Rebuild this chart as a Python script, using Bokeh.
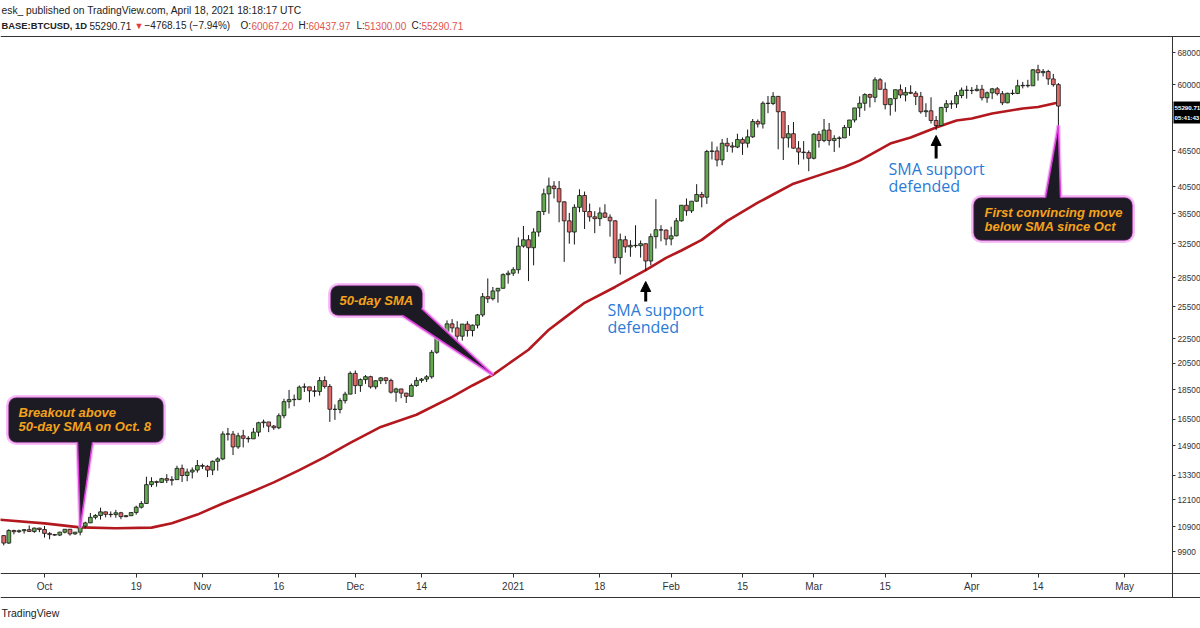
import math
import pandas as pd
from bokeh.plotting import figure
from bokeh.models import (Range1d, FixedTicker, Label, ColumnDataSource, BoxAnnotation, Arrow,
                          NormalHead, Span, NumeralTickFormatter)
from bokeh.embed import file_html
from bokeh.resources import INLINE

# ---------------- data (daily BTCUSD candles, 2020-09-23 .. 2021-04-18) ----------------
first_date = "2020-09-23"
opens = [10530, 10230, 10740, 10690, 10730, 10775, 10700, 10840,
         10780, 10620, 10570, 10550, 10670, 10790, 10600, 10670, 10920, 11060, 11300, 11380, 11540, 11430,
         11420, 11500, 11330, 11370, 11510, 11750, 11920, 12820, 12970, 12930, 13120, 13040, 13070, 13650,
         13280, 13460, 13560,
         13800, 13760, 13560, 14030, 14160, 15590, 15580, 14830, 15480, 15330, 15300, 15700, 16280, 16330,
         16070, 15970, 16730, 17660, 17800, 17820, 18680, 18700, 18420, 18370, 19160, 18730, 17150, 17140,
         17730, 18180,
         19700, 18790, 19230, 19450, 18700, 19150, 19360, 19170, 18320, 18550, 18250, 18030, 18800, 19170,
         19270, 19440, 21370, 22850, 23140, 23850, 23480, 22740, 23830, 23240, 23730, 24690, 26490, 26280,
         27080, 27360, 28840,
         29000, 29400, 32200, 33000, 32000, 34000, 36800, 39400, 40600, 40200, 38200, 35500, 34000, 37400,
         39150, 36800, 36050, 35800, 36600, 36000, 35500, 30800, 33000, 32100, 32300, 32250, 32500, 30400,
         33400, 34300, 34250,
         33100, 33500, 35500, 37700, 36900, 38300, 39300, 38900, 46400, 46500, 44900, 47900, 47400, 47200,
         48600, 47900, 49100, 52100, 51600, 55900, 55850, 57400, 54100, 48900, 49700, 47000, 46300, 46200,
         45200, 49600, 48400, 50400, 48400, 48800, 48900, 50900, 52400, 54900, 55900, 57800, 57200, 61200,
         59000, 55600, 56900, 58900, 57700, 58300, 58100, 57400, 54100, 54300, 52300, 51300, 55000, 55800,
         55750, 57600, 58800,
         58750, 58700, 59000, 57100, 58200, 59100, 58000, 56000, 58100, 58050, 59800, 59900, 59800, 63600,
         62900, 63200, 61400, 60067.20]
highs = [10540, 10790, 10770, 10780, 10800, 10950, 10860, 10850,
         10930, 10670, 10600, 10690, 10800, 10800, 10680, 10960, 11110, 11490, 11440, 11730, 11550, 11560,
         11630, 11540, 11400, 11520, 11820, 12030, 13220, 13190, 13020, 13160, 13350, 13240, 13790, 13850,
         13640, 13700, 14100,
         13900, 13820, 14070, 14250, 15750, 15960, 15770, 15660, 15840, 15460, 15960, 16340, 16480, 16330,
         16140, 16880, 17860, 18480, 18150, 18800, 18950, 18700, 18770, 19420, 19480, 18900, 17470, 17900,
         18350, 19850,
         19920, 19320, 19570, 19520, 19180, 19420, 19410, 19300, 18640, 18560, 18280, 18940, 19410, 19350,
         19570, 21560, 23770, 23290, 24170, 24290, 24100, 23830, 24100, 23790, 24780, 26870, 28420, 27500,
         27370, 28990, 29300,
         29680, 33300, 34800, 33600, 34500, 36900, 40200, 41950, 41380, 41400, 38300, 36600, 37850, 40100,
         39750, 37950, 36850, 37400, 37850, 36400, 35600, 33800, 33500, 32950, 34900, 32900, 32550, 33800,
         38600, 34900, 34350,
         34700, 35900, 37700, 38700, 38300, 40900, 39700, 46700, 48200, 47300, 48700, 48900, 48100, 49700,
         49000, 50500, 52600, 52500, 56300, 57500, 58350, 57500, 54200, 51400, 52000, 48300, 48300, 46600,
         49800, 50200, 52600, 51800, 49400, 49200, 51400, 52400, 54900, 57400, 58100, 58000, 61800, 61600,
         60600, 56900, 58900, 60100, 59500, 59900, 58600, 58400, 55900, 57200, 53200, 55100, 56600, 56500,
         58400, 59400, 59800,
         59500, 60000, 60000, 58500, 59300, 59500, 58600, 58200, 58900, 61200, 60700, 61200, 63800, 64850,
         63800, 63600, 62600, 60437.97]
lows = [10140, 10200, 10580, 10640, 10610, 10680, 10640, 10670,
        10450, 10380, 10520, 10510, 10620, 10530, 10560, 10540, 10830, 11050, 11210, 11200, 11300, 11300,
        11280, 11220, 11300, 11360, 11420, 11690, 11900, 12700, 12720, 12900, 12900, 12780, 13060, 12950,
        12990, 13130, 13430,
        13620, 13200, 13300, 13530, 14090, 15200, 14370, 14720, 14800, 15080, 15290, 15440, 15970, 15700,
        15840, 15880, 16560, 17210, 17350, 17760, 18330, 17620, 18000, 18080, 18580, 16330, 16460, 16880,
        17540, 18180,
        18190, 18340, 18920, 18580, 18530, 18900, 18900, 18220, 17650, 17900, 17570, 18020, 18710, 19000,
        19050, 19300, 21240, 22360, 22810, 23070, 21900, 22350, 22700, 22720, 23440, 24500, 25860, 26100,
        25880, 27330, 27850,
        28700, 28950, 32000, 28130, 29900, 33400, 36300, 36500, 38700, 35300, 30300, 32500, 32400, 36700,
        34400, 35400, 33850, 34800, 35900, 33400, 30100, 28850, 31400, 30900, 32000, 30800, 29240, 29900,
        31900, 32800, 32300,
        32300, 33450, 35400, 36200, 36600, 38200, 37400, 37900, 45000, 43800, 44000, 46300, 46200, 47000,
        45800, 47100, 48900, 50900, 50700, 53800, 55500, 46800, 44900, 47100, 46900, 44100, 45000, 43000,
        45000, 47100, 48100, 47500, 46300, 47100, 48900, 49300, 51900, 53000, 54300, 55000, 56100, 58900,
        54600, 53300, 54100, 57000, 56300, 57900, 55500, 53700, 53000, 51700, 50400, 51300, 54000, 54700,
        54900, 57000, 56900,
        57900, 58500, 56500, 56000, 56800, 57600, 55500, 55900, 57700, 57900, 59200, 59400, 59800, 61000,
        62000, 60000, 59600, 51300.00]
closes = [10230, 10740, 10690, 10730, 10775, 10700, 10840, 10780,
          10620, 10570, 10550, 10670, 10790, 10600, 10670, 10920, 11060, 11300, 11380, 11540, 11430, 11420,
          11500, 11330, 11370, 11510, 11750, 11920, 12820, 12970, 12930, 13120, 13040, 13070, 13650, 13280,
          13460, 13560, 13800,
          13760, 13560, 14030, 14160, 15590, 15580, 14830, 15480, 15330, 15300, 15700, 16280, 16330, 16070,
          15970, 16730, 17660, 17800, 17820, 18680, 18700, 18420, 18370, 19160, 18730, 17150, 17140, 17730,
          18180, 19700,
          18790, 19230, 19450, 18700, 19150, 19360, 19170, 18320, 18550, 18250, 18030, 18800, 19170, 19270,
          19440, 21370, 22850, 23140, 23850, 23480, 22740, 23830, 23240, 23730, 24690, 26490, 26280, 27080,
          27360, 28840, 29000,
          29400, 32200, 33000, 32000, 34000, 36800, 39400, 40600, 40200, 38200, 35500, 34000, 37400, 39150,
          36800, 36050, 35800, 36600, 36000, 35500, 30800, 33000, 32100, 32300, 32250, 32500, 30400, 33400,
          34300, 34250, 33100,
          33500, 35500, 37700, 36900, 38300, 39300, 38900, 46400, 46500, 44900, 47900, 47400, 47200, 48600,
          47900, 49100, 52100, 51600, 55900, 55850, 57400, 54100, 48900, 49700, 47000, 46300, 46200, 45200,
          49600, 48400, 50400, 48400, 48800, 48900, 50900, 52400, 54900, 55900, 57800, 57200, 61200, 59000,
          55600, 56900, 58900, 57700, 58300, 58100, 57400, 54100, 54300, 52300, 51300, 55000, 55800, 55750,
          57600, 58800, 58750,
          58700, 59000, 57100, 58200, 59100, 58000, 56000, 58100, 58050, 59800, 59900, 59800, 63600, 62900,
          63200, 61400, 60067.20, 55290.71]

# 50-day simple moving average
sma_dates = ["2020-09-22", "2020-10-01", "2020-10-08", "2020-10-15", "2020-10-22", "2020-10-26",
             "2020-10-31", "2020-11-05", "2020-11-10", "2020-11-15", "2020-11-20", "2020-11-25",
             "2020-11-30", "2020-12-06", "2020-12-13", "2020-12-20", "2020-12-24", "2020-12-28",
             "2021-01-04", "2021-01-08", "2021-01-11", "2021-01-15", "2021-01-21", "2021-01-27",
             "2021-01-31", "2021-02-03", "2021-02-07", "2021-02-12", "2021-02-18", "2021-02-21",
             "2021-02-25", "2021-03-03", "2021-03-07", "2021-03-10", "2021-03-16", "2021-03-20",
             "2021-03-25", "2021-03-29", "2021-04-01", "2021-04-05", "2021-04-11", "2021-04-14",
             "2021-04-18"]
sma_values = [11200, 11040, 10870, 10830, 10860, 11040, 11420, 11920, 12400, 12930, 13560, 14260,
              15060, 16020, 16790, 17990, 18800, 19590, 21580, 23320, 24380, 25870, 27500, 29360,
              30770, 31660, 32980, 35500, 38080, 39300, 40970, 42600, 43700, 44800, 47850, 48970,
              50900, 52310, 52700, 53740, 54770, 55080, 56080]

x_tick_dates = ["2020-10-01", "2020-10-19", "2020-11-01", "2020-11-16", "2020-12-01", "2020-12-14",
                "2021-01-01", "2021-01-18", "2021-02-01", "2021-02-15", "2021-03-01", "2021-03-15",
                "2021-04-01", "2021-04-14", "2021-05-01"]
x_tick_labels = ["Oct", "19", "Nov", "16", "Dec", "14", "2021", "18", "Feb", "15", "Mar", "15",
                 "Apr", "14", "May"]
y_ticks = [9900, 10900, 12100, 13300, 14900, 16500, 18500, 20500, 22500, 25500, 28500, 32500,
           36500, 40500, 46500, 60000, 68000]

# ---------------- view / layout (page pixels) ----------------
W, H = 1200, 628
X_START = pd.Timestamp("2020-09-22 08:44")   # date at the left edge
X_END = pd.Timestamp("2021-05-15 21:20")     # date at the right edge
Y_MIN, Y_MAX = 7356, 83120                   # prices at bottom / top edge
TOP_LINE, AXIS_Y, BOTTOM_LINE, SCALE_X = 36, 573, 597, 1172

GREEN, RED, EDGE = "#63a94f", "#e06b6b", "#151515"
SMA_COLOR = "#b3181e"
BOX_FILL, GLOW, RIM = "#1c1b24", "#f3a2f3", "#dc3fdc"
ORANGE, BLUE = "#f5a21b", "#2b7bd6"
TXT = "#222222"
AX = "#333333"


def ms(d):
    return pd.Timestamp(d).value / 1e6


def to_data(xp, yp):
    t = X_START + (X_END - X_START) * (xp / W)
    ly = math.log(Y_MAX) - (yp / H) * (math.log(Y_MAX) - math.log(Y_MIN))
    return t.value / 1e6, math.exp(ly)


def sy(yp):
    return H - yp


dates = pd.date_range(first_date, periods=len(closes), freq="D")
src = ColumnDataSource(dict(
    date=dates, open=opens, high=highs, low=lows, close=closes,
    top=[max(o, c) for o, c in zip(opens, closes)],
    bottom=[min(o, c) for o, c in zip(opens, closes)],
    color=[GREEN if c >= o else RED for o, c in zip(opens, closes)],
))

p = figure(width=W, height=H, x_axis_type="datetime", y_axis_type="log",
           x_range=Range1d(X_START, X_END), y_range=Range1d(Y_MIN, Y_MAX),
           y_axis_location="right", output_backend="svg", toolbar_location=None,
           min_border=0, min_border_left=0, min_border_right=0, min_border_top=0,
           min_border_bottom=0)
p.outline_line_color = None
p.grid.visible = False
p.background_fill_color = "white"
p.border_fill_color = "white"

# time axis
xaxis = p.xaxis[0]
xaxis.fixed_location = to_data(0, AXIS_Y)[1]
xaxis.ticker = FixedTicker(ticks=[int(ms(d)) for d in x_tick_dates])
xaxis.major_label_overrides = {int(ms(d)): lab for d, lab in zip(x_tick_dates, x_tick_labels)}
xaxis.major_tick_in = 0
xaxis.major_tick_out = 4
xaxis.minor_tick_line_color = None
xaxis.axis_line_color = AX
xaxis.major_tick_line_color = AX
xaxis.major_label_text_font = "Liberation Sans"
xaxis.major_label_text_font_size = "10px"
xaxis.major_label_text_color = AX
xaxis.major_label_standoff = 3

# price scale
yaxis = p.yaxis[0]
yaxis.fixed_location = to_data(SCALE_X, 0)[0]
yaxis.bounds = (to_data(0, BOTTOM_LINE)[1], to_data(0, TOP_LINE)[1])
yaxis.ticker = FixedTicker(ticks=y_ticks)
yaxis.formatter = NumeralTickFormatter(format="0")
yaxis.major_tick_in = 0
yaxis.major_tick_out = 3
yaxis.minor_tick_line_color = None
yaxis.axis_line_color = AX
yaxis.major_tick_line_color = AX
yaxis.major_label_text_font = "Liberation Sans"
yaxis.major_label_text_font_size = "8.3px"
yaxis.major_label_text_color = AX
yaxis.major_label_standoff = 2

for yp in (TOP_LINE, BOTTOM_LINE):
    p.add_layout(Span(location=to_data(0, yp)[1], dimension="width", line_color=AX,
                      line_width=1))

# SMA then candles
p.line(x=[ms(d) for d in sma_dates], y=sma_values, line_color=SMA_COLOR, line_width=2.6)
p.segment(x0="date", y0="low", x1="date", y1="high", line_color=EDGE, line_width=1, source=src)
p.vbar(x="date", width=0.74 * 86400000, top="top", bottom="bottom", fill_color="color",
       line_color=EDGE, line_width=0.8, source=src)

# last price box on the price scale
p.add_layout(BoxAnnotation(left=1173, right=1200, top=sy(101), bottom=sy(123),
                           left_units="screen", right_units="screen", top_units="screen",
                           bottom_units="screen", fill_color="black", fill_alpha=1,
                           line_color=None, level="overlay"))
for txt, yp in [(f"{closes[-1]:.2f}", 107), ("05:41:43", 117)]:
    p.add_layout(Label(x=1174, y=sy(yp), x_units="screen", y_units="screen", text=txt,
                       text_font="Liberation Sans", text_font_size="6.2px", text_color="white",
                       text_font_style="bold", text_baseline="middle", level="overlay"))

# header
p.add_layout(Label(x=1, y=sy(10), x_units="screen", y_units="screen",
                   text="esk_ published on TradingView.com, April 18, 2021 18:18:17 UTC",
                   text_font="Liberation Sans", text_font_size="10.3px", text_color=TXT,
                   text_baseline="middle"))
header2 = [(1, "BASE:BTCUSD, 1D", TXT, "bold", "9.4px"),
           (89, f"{closes[-1]:.2f}", TXT, "normal", "10px"),
           (134, "\u25bc", "#e23b3b", "normal", "9px"),
           (144, "\u22124768.15 (\u22127.94%)", TXT, "normal", "10px"),
           (240, "O:", TXT, "normal", "10px"),
           (251, f"{opens[-1]:.2f}", "#e0534f", "normal", "10px"),
           (298, "H:", TXT, "normal", "10px"),
           (308, f"{highs[-1]:.2f}", "#e0534f", "normal", "10px"),
           (356, "L:", TXT, "normal", "10px"),
           (364, f"{lows[-1]:.2f}", "#e0534f", "normal", "10px"),
           (411, "C:", TXT, "normal", "10px"),
           (421, f"{closes[-1]:.2f}", "#e0534f", "normal", "10px")]
for xp, txt, col, style, size in header2:
    p.add_layout(Label(x=xp, y=sy(25), x_units="screen", y_units="screen", text=txt,
                       text_font="Liberation Sans", text_font_size=size, text_color=col,
                       text_font_style=style, text_baseline="middle"))

p.add_layout(Label(x=1, y=sy(612), x_units="screen", y_units="screen", text="TradingView",
                   text_font="Liberation Sans", text_font_size="10.5px", text_color=TXT,
                   text_baseline="middle"))

# callouts: box (page px), text lines, tail polygon (page px) + tip in data
callouts = [
    dict(box=(8, 397, 163, 442),
         lines=[("Breakout above", 18, 412), ("50-day SMA on Oct. 8", 18, 426)],
         edge=[(77, 442), (92, 442)], inner=[(77, 437), (92, 437)],
         tip=(ms(sma_dates[2]), sma_values[2])),
    dict(box=(330, 285, 422, 315),
         lines=[("50-day SMA", 339, 300)],
         edge=[(402, 315), (421, 308)], inner=[(402, 310), (416, 308)],
         tip=(ms(sma_dates[17]), sma_values[17])),
    dict(box=(973, 197, 1132, 240),
         lines=[("First convincing move", 984, 212), ("below SMA since Oct", 984, 226)],
         edge=[(1045, 197), (1060, 197)], inner=[(1045, 202), (1060, 202)],
         tip=(ms(dates[-1]), lows[-1])),
]
for c in callouts:
    l, t, r, b = c["box"]
    common = dict(left=l, right=r, top=sy(t), bottom=sy(b), left_units="screen",
                  right_units="screen", top_units="screen", bottom_units="screen",
                  border_radius=8)
    p.add_layout(BoxAnnotation(fill_alpha=0, line_color=GLOW, line_alpha=0.7, line_width=5,
                               **common))
    p.add_layout(BoxAnnotation(fill_color=BOX_FILL, fill_alpha=1, line_color=RIM,
                               line_width=1.5, **common))
    tip = c["tip"]
    e = [to_data(*pt) for pt in c["edge"]]
    i = [to_data(*pt) for pt in c["inner"]]
    for pt in e:
        p.line(x=[pt[0], tip[0]], y=[pt[1], tip[1]], line_color=GLOW, line_width=4,
               line_alpha=0.7, level="overlay")
    poly = [i[0], e[0], tip, e[1], i[1]]
    p.patch(x=[q[0] for q in poly], y=[q[1] for q in poly], fill_color=BOX_FILL,
            line_color=None, level="overlay")
    for pt in e:
        p.line(x=[pt[0], tip[0]], y=[pt[1], tip[1]], line_color=RIM, line_width=1.5,
               level="overlay")
    for txt, xp, yp in c["lines"]:
        p.add_layout(Label(x=xp, y=sy(yp), x_units="screen", y_units="screen", text=txt,
                           text_font="Liberation Sans", text_font_size="13px",
                           text_font_style="bold italic", text_color=ORANGE,
                           text_baseline="middle"))

# "SMA support defended" notes with arrows
notes = [dict(date="2021-01-27", arrow=(301, 281), text=(607, 309, 326)),
         dict(date="2021-03-25", arrow=(158, 135), text=(888, 168, 185))]
for n in notes:
    y0 = to_data(0, n["arrow"][0])[1]
    y1 = to_data(0, n["arrow"][1])[1]
    p.add_layout(Arrow(x_start=ms(n["date"]), y_start=y0, x_end=ms(n["date"]), y_end=y1,
                       line_color="black", line_width=3,
                       end=NormalHead(size=10, fill_color="black", line_color="black")))
    xp, y_a, y_b = n["text"]
    for txt, yp in [("SMA support", y_a), ("defended", y_b)]:
        p.add_layout(Label(x=xp, y=sy(yp), x_units="screen", y_units="screen", text=txt,
                           text_font="Open Sans", text_font_size="16px", text_color=BLUE,
                           text_baseline="middle"))

open("out.html", "w").write(file_html(p, INLINE))
